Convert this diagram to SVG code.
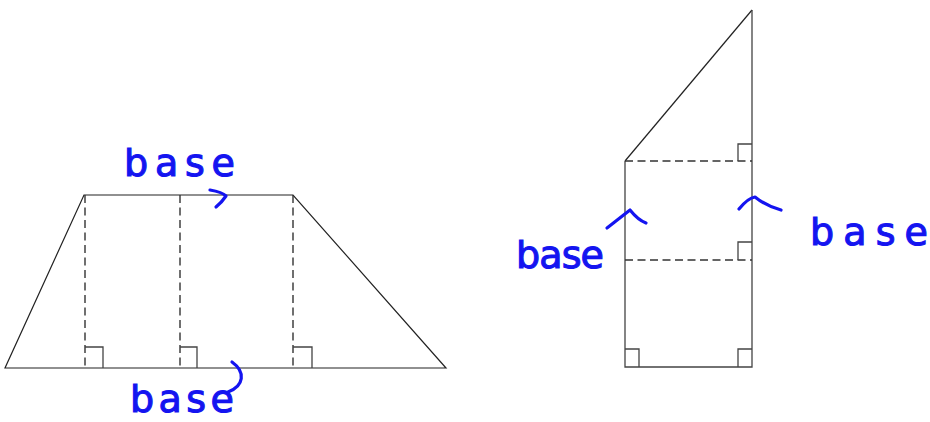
<svg xmlns="http://www.w3.org/2000/svg" width="930" height="422" viewBox="0 0 930 422">
<style>
.ln{fill:none;stroke:#222;stroke-width:1.2}
.gr{fill:none;stroke:#444;stroke-width:1.3}
.ds{fill:none;stroke:#333;stroke-width:1.4;stroke-dasharray:8 4.5}
.lbl{font-family:"DejaVu Sans",sans-serif;font-size:38px;fill:#1414f0;stroke:#1414f0;stroke-width:1.1}
.hand{fill:none;stroke:#1414f0;stroke-width:3.2;stroke-linecap:round;stroke-linejoin:round}
</style>
<rect width="930" height="422" fill="#fff"/>
<g id="trapezoid">
<polygon class="ln" points="5,368 446,368 293,195 84,195"/>
<line class="ds" x1="85" y1="195" x2="85" y2="368"/>
<line class="ds" x1="180" y1="195" x2="180" y2="368"/>
<line class="ds" x1="293" y1="195" x2="293" y2="368"/>
<polyline class="gr" points="85,347 103,347 103,368"/>
<polyline class="gr" points="180,347 197,347 197,368"/>
<polyline class="gr" points="293,347 312,347 312,368"/>
</g>
<g id="right-shape">
<polyline class="ln" points="625,161 752,10"/>
<polyline class="gr" points="625,161 625,367 752,367 752,10"/>
<line class="ds" x1="625" y1="161" x2="752" y2="161"/>
<line class="ds" x1="625" y1="260" x2="752" y2="260"/>
<polyline class="gr" points="738,161 738,144 752,144"/>
<polyline class="gr" points="738,260 738,242 752,242"/>
<polyline class="gr" points="625,349 639,349 639,367"/>
<polyline class="gr" points="738,367 738,349 752,349"/>
</g>
<g id="labels">
<text class="lbl" x="124" y="176" textLength="111" lengthAdjust="spacing">base</text>
<text class="lbl" x="130" y="412" textLength="104" lengthAdjust="spacing">base</text>
<text class="lbl" x="516" y="268" textLength="88" lengthAdjust="spacing">base</text>
<text class="lbl" x="810" y="245" textLength="118" lengthAdjust="spacing">base</text>
</g>
<g id="connectors">
<path class="hand" d="M210,190 Q222,192 226,196 Q222,202 216,207"/>
<path class="hand" d="M232,362 C246,372 244,386 228,392"/>
<path class="hand" d="M607,228 L630,210 Q638,220 646,223"/>
<path class="hand" d="M739,209 Q748,198 755,197 Q766,206 781,210"/>
</g>
</svg>
